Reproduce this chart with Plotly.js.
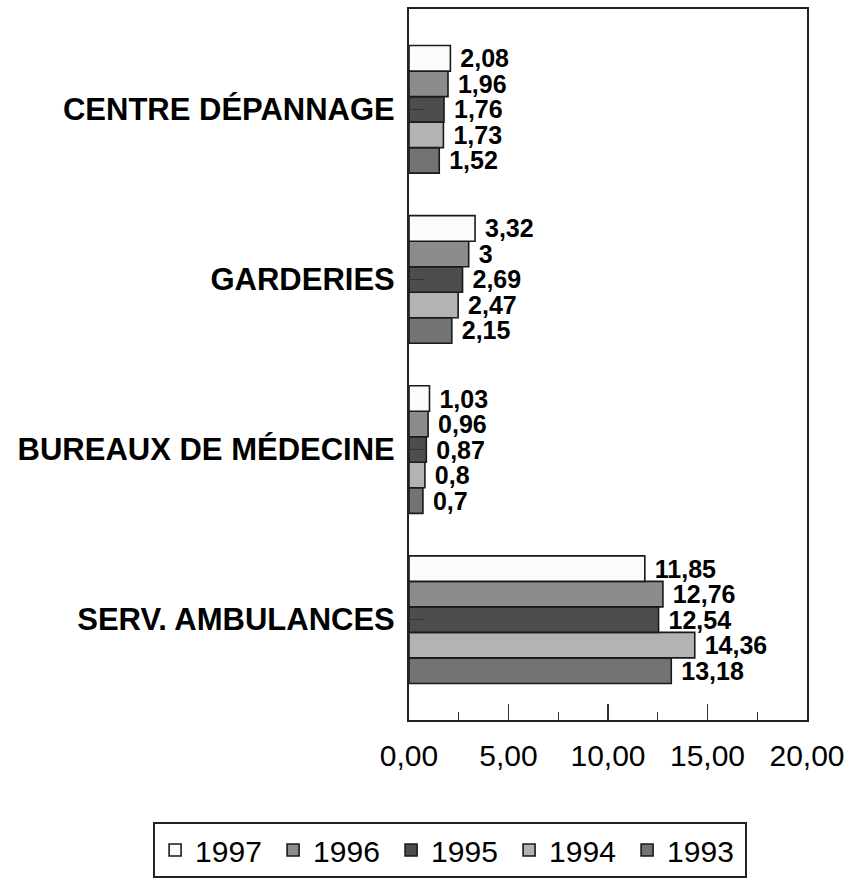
<!DOCTYPE html>
<html>
<head>
<meta charset="utf-8">
<script src="https://cdn.plot.ly/plotly-3.0.1.min.js"></script>
<style>html,body{margin:0;padding:0;background:#fff;}#chart{width:859px;height:884px;}</style>
</head>
<body>
<div id="chart"></div>
<script>
// Categories, listed top to bottom as in the chart
var categories = ['CENTRE DÉPANNAGE', 'GARDERIES', 'BUREAUX DE MÉDECINE', 'SERV. AMBULANCES'];
var years = ['1997', '1996', '1995', '1994', '1993'];
var v1997 = [2.08, 3.32, 1.03, 11.85];
var v1996 = [1.96, 3.00, 0.96, 12.76];
var v1995 = [1.76, 2.69, 0.87, 12.54];
var v1994 = [1.73, 2.47, 0.80, 14.36];
var v1993 = [1.52, 2.15, 0.70, 13.18];
var xTickVals = [0, 5, 10, 15, 20];

var seriesValues = {'1997': v1997, '1996': v1996, '1995': v1995, '1994': v1994, '1993': v1993};
var colors = {'1997': '#fbfbfb', '1996': '#8c8c8c', '1995': '#4d4d4d', '1994': '#b3b3b3', '1993': '#737373'};
var FONT = 'Arial, "Liberation Sans", sans-serif';

function lbl(v) { return ' ' + String(v).replace('.', ','); }

// Plotly stacks grouped horizontal bars bottom-up, so add 1993 first
var traces = years.slice().reverse().map(function (yr) {
  var vals = seriesValues[yr];
  return {
    type: 'bar', orientation: 'h', name: yr,
    x: vals, y: categories,
    text: vals.map(lbl), textposition: 'outside', textangle: 0,
    constraintext: 'none', cliponaxis: false,
    outsidetextfont: {family: FONT, size: 25, color: '#000', weight: 'bold'},
    marker: {color: colors[yr], line: {color: '#1a1a1a', width: 1.6}},
    hoverinfo: 'skip'
  };
});

var layout = {
  width: 859, height: 884,
  paper_bgcolor: '#fff', plot_bgcolor: '#fff',
  margin: {l: 409, r: 52, t: 9, b: 164, pad: 0, autoexpand: false},
  barmode: 'group', bargap: 0.25, bargroupgap: 0,
  showlegend: true,
  font: {family: FONT, color: '#000'},
  xaxis: {
    range: [0, 20], tickvals: xTickVals, tickformat: '.2f',
    ticks: 'inside', ticklen: 16, tickwidth: 1.2, tickcolor: '#333',
    minor: {dtick: 2.5, tick0: 0, ticks: 'inside', ticklen: 8, tickwidth: 1.2, tickcolor: '#333', showgrid: false},
    showgrid: false, zeroline: false,
    showline: true, mirror: true, linecolor: '#222', linewidth: 2,
    tickfont: {family: FONT, size: 30, color: '#000'},
    ticklabelstandoff: 8, fixedrange: true, automargin: false
  },
  yaxis: {
    type: 'category', categoryorder: 'array', categoryarray: categories.slice().reverse(),
    range: [-0.59, 3.59],
    ticks: 'inside', ticklen: 16, tickwidth: 1.2, tickcolor: '#333',
    showgrid: false, zeroline: false,
    showline: true, mirror: true, linecolor: '#222', linewidth: 2,
    tickfont: {family: FONT, size: 31, color: '#000', weight: 'bold'},
    ticklabelstandoff: 6, fixedrange: true, automargin: false
  },
  separators: ', ',
  legend: {
    orientation: 'h', traceorder: 'reversed',
    x: -0.643, xanchor: 'left', y: -0.1435, yanchor: 'top',
    bordercolor: '#222', borderwidth: 2, bgcolor: '#fff',
    font: {family: FONT, size: 30, color: '#000'},
    itemwidth: 30, tracegroupgap: 0, entrywidth: 73, entrywidthmode: 'pixels'
  }
};

Plotly.newPlot('chart', traces, layout, {displayModeBar: false, staticPlot: true});
</script>
</body>
</html>
